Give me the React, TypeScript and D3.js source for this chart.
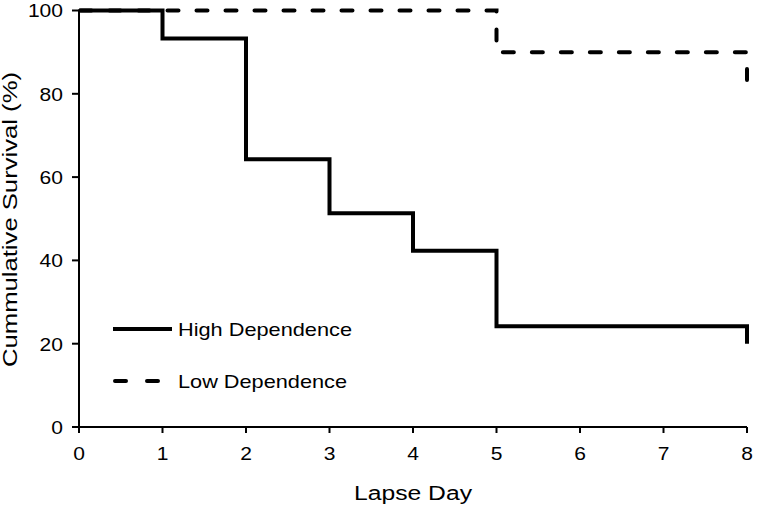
import React from 'react'
import * as d3 from 'd3'

const width = 757
const height = 508
const margin = { left: 79, right: 10, top: 10.5, bottom: 81 }

// survival curves (step after each day)
const highDays = [0, 1, 2, 3, 4, 5, 8, 8]
const highSurvival = [100, 93.3, 64.3, 51.3, 42.3, 24.2, 24.2, 20]
const lowDays = [0, 5, 8, 8]
const lowSurvival = [100, 90, 90, 81.8]

const xTicks = [0, 1, 2, 3, 4, 5, 6, 7, 8]
const yTicks = [0, 20, 40, 60, 80, 100]

const seriesNames = ['High Dependence', 'Low Dependence']

const font = '"Liberation Sans", Arial, sans-serif'

const x = d3.scaleLinear().domain([0, 8]).range([margin.left, width - margin.right])
const y = d3.scaleLinear().domain([0, 100]).range([height - margin.bottom, margin.top])

const stepLine = d3.line<[number, number]>()
  .x(d => x(d[0]))
  .y(d => y(d[1]))
  .curve(d3.curveStepAfter)

const highPts = highDays.map((d, i) => [d, highSurvival[i]] as [number, number])
const lowPts = lowDays.map((d, i) => [d, lowSurvival[i]] as [number, number])

// the source text is a bit wider than Liberation Sans at the same height
const digitWidth = 11.7

export default function App() {
  const x0 = x(0)
  const y0 = y(0)
  return (
    <svg width={width} height={height} style={{ position: 'absolute', left: 0, top: 0, background: '#fff' }}>
      {/* series */}
      <path d={stepLine(lowPts) || ''} fill="none" stroke="#000" strokeWidth={4}
        strokeDasharray="11 18" strokeDashoffset={-1.5} strokeLinecap="round" />
      <path d={stepLine(highPts) || ''} fill="none" stroke="#000" strokeWidth={4} />

      {/* axes */}
      <line x1={x0} x2={x(8)} y1={y0} y2={y0} stroke="#000" strokeWidth={2} />
      <line x1={x0} x2={x0} y1={y(100) - 1} y2={y0 + 1} stroke="#000" strokeWidth={2} />
      {xTicks.map(t => (
        <g key={'x' + t}>
          <line x1={x(t)} x2={x(t)} y1={y0} y2={y0 + 6} stroke="#000" strokeWidth={2} />
          <text x={x(t)} y={460} textAnchor="middle" fontFamily={font} fontSize={19}
            textLength={String(t).length * digitWidth} lengthAdjust="spacingAndGlyphs">{t}</text>
        </g>
      ))}
      {yTicks.map(t => (
        <g key={'y' + t}>
          <line x1={x0 - 7} x2={x0} y1={y(t)} y2={y(t)} stroke="#000" strokeWidth={2} />
          <text x={63} y={y(t) + 6.8} textAnchor="end" fontFamily={font} fontSize={19}
            textLength={String(t).length * digitWidth} lengthAdjust="spacingAndGlyphs">{t}</text>
        </g>
      ))}

      {/* axis titles */}
      <text x={(x(0) + x(8)) / 2} y={500} textAnchor="middle" fontFamily={font} fontSize={20}
        textLength={118} lengthAdjust="spacingAndGlyphs">Lapse Day</text>
      <text transform={`translate(17,${(367 + 72) / 2}) rotate(-90)`} textAnchor="middle"
        fontFamily={font} fontSize={20} textLength={295} lengthAdjust="spacingAndGlyphs">Cummulative Survival (%)</text>

      {/* legend */}
      <line x1={113} x2={172} y1={329} y2={329} stroke="#000" strokeWidth={4} />
      <text x={178} y={336} fontFamily={font} fontSize={18.6}
        textLength={174} lengthAdjust="spacingAndGlyphs">{seriesNames[0]}</text>
      <line x1={115} x2={160} y1={381} y2={381} stroke="#000" strokeWidth={4}
        strokeDasharray="11 21" strokeLinecap="round" />
      <text x={178} y={388} fontFamily={font} fontSize={18.6}
        textLength={169} lengthAdjust="spacingAndGlyphs">{seriesNames[1]}</text>
    </svg>
  )
}
